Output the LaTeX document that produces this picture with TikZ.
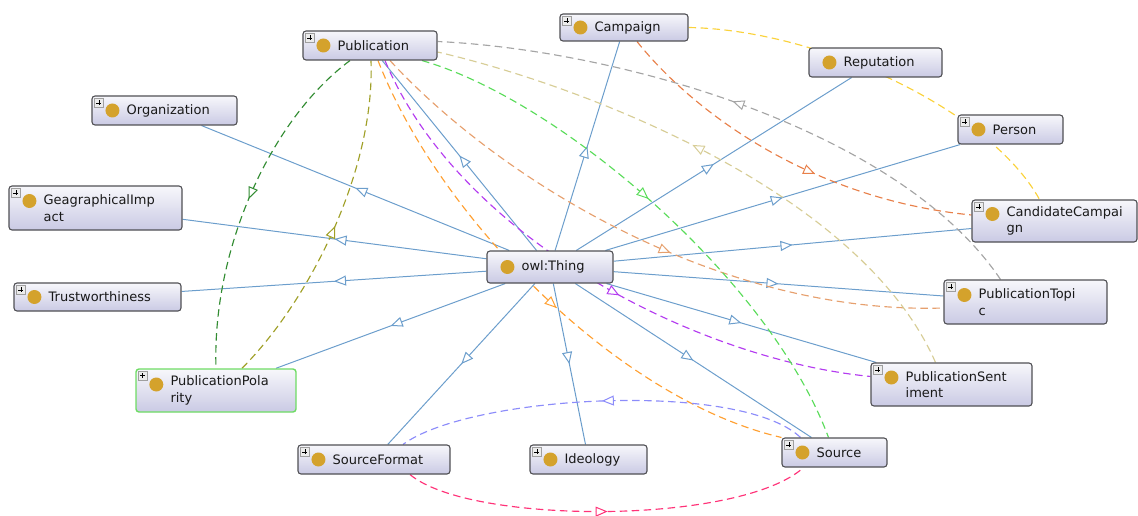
\documentclass[tikz,border=0pt]{standalone}
\usepackage{fontspec}
\setmainfont{DejaVu Sans}
\usetikzlibrary{arrows.meta,decorations.markings,backgrounds}

\definecolor{boxline}{RGB}{80,80,84}
\definecolor{boxtop}{RGB}{247,247,251}
\definecolor{boxbot}{RGB}{202,202,228}
\definecolor{dotcol}{RGB}{212,162,44}
\definecolor{txt}{RGB}{25,25,25}
\definecolor{isa}{RGB}{108,158,204}
\definecolor{polgreen}{RGB}{110,220,100}
\definecolor{cDkGreen}{RGB}{50,140,50}
\definecolor{cOlive}{RGB}{160,160,40}
\definecolor{cOrange}{RGB}{255,160,50}
\definecolor{cPurple}{RGB}{180,60,240}
\definecolor{cTan}{RGB}{230,160,110}
\definecolor{cLtGreen}{RGB}{90,220,90}
\definecolor{cKhaki}{RGB}{215,205,150}
\definecolor{cGray}{RGB}{165,165,165}
\definecolor{cOrRed}{RGB}{232,128,74}
\definecolor{cYellow}{RGB}{250,210,60}
\definecolor{cLavender}{RGB}{140,140,250}
\definecolor{cPink}{RGB}{255,50,120}

\tikzset{
  clsbox/.style={draw=boxline, line width=1.1pt, rounded corners=3pt,
    top color=boxtop, bottom color=boxbot, inner sep=0pt},
  clstext/.style={inner sep=0pt, align=left, text=txt,
    font=\fontsize{13}{16.5}\selectfont},
  tipat/.style={postaction={decorate, decoration={markings,
    mark=at position #1 with {\arrow{Triangle[length=12pt,width=10pt,fill=white,line width=1pt]}}}}},
  isaedge/.style={isa, line width=1pt, tipat=0.5},
  rel/.style={line width=1.15pt, dash pattern=on 7.5pt off 4.5pt},
  plusbox/.style={draw=gray!75, fill=gray!15, line width=0.5pt},
}

% class box: [extra style]{name}{cx}{cy}{width}{height}{dot shift}{label}
\newcommand\ontoclass[8][]{%
  \node[clsbox, minimum width=#5pt, minimum height=#6pt, #1] (#2) at (#3,#4) {};
  \fill[dotcol] ([xshift=21pt,yshift=#7pt]#2.west) circle (7pt);
  \node[clstext, anchor=west] (#2-txt) at ([xshift=35pt]#2.west) {#8};
}

% small expand icon in the upper left corner of a class box
\newcommand\plusicon[1]{%
  \draw[plusbox] ([xshift=3pt,yshift=-3pt]#1.north west) rectangle ++(9,9);
  \draw[black, line width=0.8pt] ([xshift=5pt,yshift=-7.5pt]#1.north west) -- ++(5,0);
  \draw[black, line width=0.8pt] ([xshift=7.5pt,yshift=-5pt]#1.north west) -- ++(0,5);
}

\begin{document}
\begin{tikzpicture}[x=1pt,y=-1pt]
\useasboundingbox (0,0) rectangle (1138,516);

\ontoclass{pub}{370}{45.5}{134}{29}{0}{Publication}
\ontoclass{camp}{624}{27.5}{128}{27}{0}{Campaign}
\ontoclass{rep}{875.5}{62.5}{133}{29}{0}{Reputation}
\ontoclass{org}{164.5}{110.5}{145}{29}{0}{Organization}
\ontoclass{person}{1010.5}{129.5}{105}{29}{0}{Person}
\ontoclass{geo}{95.5}{208}{173}{44}{7}{GeagraphicalImp\\act}
\ontoclass{cand}{1054.5}{221}{165}{42}{7}{CandidateCampai\\gn}
\ontoclass{thing}{550}{267}{126}{32}{0}{owl:Thing}
\ontoclass{trust}{97.5}{297}{167}{28}{0}{Trustworthiness}
\ontoclass{topic}{1025.5}{302}{163}{44}{7}{PublicationTopi\\c}
\ontoclass[draw=polgreen, line width=1.4pt]{pol}{216}{390.5}{160}{43}{6}{PublicationPola\\rity}
\ontoclass{sent}{951.5}{384.5}{161}{43}{7}{PublicationSent\\iment}
\ontoclass{sf}{374}{459.5}{152}{29}{0}{SourceFormat}
\ontoclass{ideo}{588.5}{459.5}{117}{29}{0}{Ideology}
\ontoclass{src}{834.5}{452.5}{105}{29}{0}{Source}

\foreach \n in {pub,camp,org,person,geo,cand,trust,topic,pol,sent,sf,ideo,src}
  {\plusicon{\n}}

\begin{pgfonlayer}{background}
  % subclass links from owl:Thing
  \foreach \n in {pub,camp,rep,org,person,geo,cand,trust,topic,pol,sent,sf,ideo,src}
    {\draw[isaedge] (thing) -- (\n);}

  % object property links
  \draw[rel, cDkGreen, tipat=0.5] ([xshift=-20pt]pub.south)
    .. controls (270,120) and (212,250) .. (pol.north);
  \draw[rel, cOlive, tipat=0.5] ([xshift=26pt]pol.north)
    .. controls (310,300) and (375,170) .. ([xshift=1pt]pub.south);
  \draw[rel, cOrange, tipat=0.54] ([xshift=8pt]pub.south)
    .. controls (440,220) and (620,400) .. (src.north west);
  \draw[rel, cPurple, tipat=0.56] ([xshift=15pt]pub.south)
    .. controls (460,240) and (700,360) .. ([yshift=-14pt]sent.north west);
  \draw[rel, cTan, tipat=0.55] ([xshift=20pt]pub.south)
    .. controls (500,180) and (720,315) .. ([yshift=-6pt]topic.west);
  \draw[rel, cLtGreen, tipat=0.47] ([xshift=52pt]pub.south)
    .. controls (560,100) and (770,280) .. ([xshift=-6pt]src.north);
  \draw[rel, cKhaki, tipat=0.55] ([xshift=-16pt]sent.north)
    .. controls (860,190) and (580,85) .. ([yshift=-6.5pt]pub.east);
  \draw[rel, cGray, tipat=0.52] ([xshift=-25pt]topic.north)
    .. controls (900,130) and (620,50) .. ([yshift=4pt]pub.east);
  \draw[rel, cOrRed, tipat=0.58] ([xshift=13pt]camp.south)
    .. controls (700,120) and (820,200) .. ([yshift=6pt]cand.west);
  \draw[rel, cYellow] (camp.east)
    .. controls (820,30) and (990,110) .. ([xshift=-15pt]cand.north);
  \draw[rel, cLavender, tipat=0.5] ([xshift=-34pt]src.north)
    .. controls (740,380) and (470,395) .. ([xshift=29pt]sf.north);
  \draw[rel, cPink, tipat=0.5] ([xshift=36pt]sf.south)
    .. controls (470,525) and (740,525) .. ([xshift=-31pt]src.south);
\end{pgfonlayer}
\end{tikzpicture}
\end{document}
